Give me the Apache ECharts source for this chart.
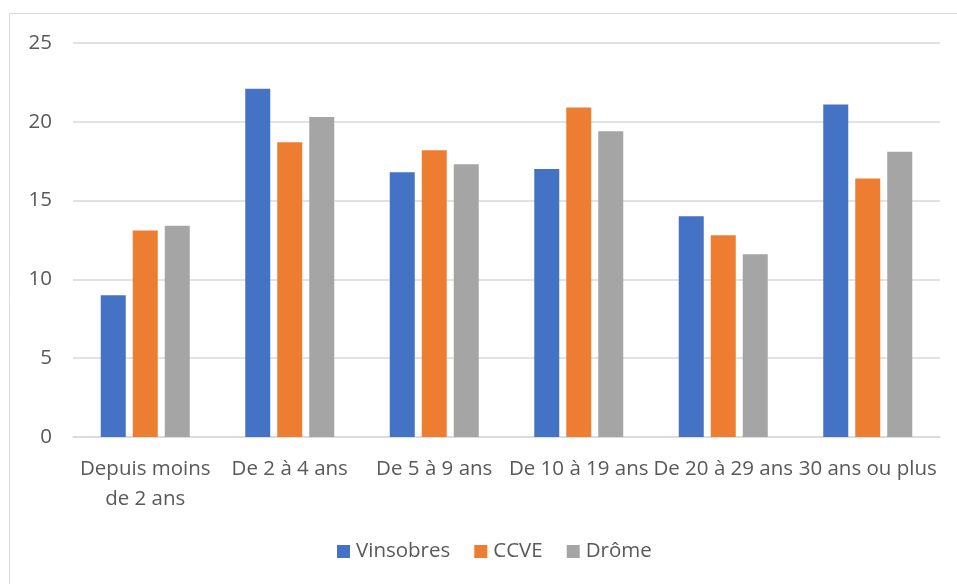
<!DOCTYPE html>
<html><head><meta charset="utf-8">
<script src="https://cdn.jsdelivr.net/npm/echarts@6/dist/echarts.min.js"></script>
<style>html,body{margin:0;padding:0;background:#fff}#c{width:957px;height:584px}</style>
</head><body><div id="c"></div>
<script>
const categories = ["Depuis moins\nde 2 ans", "De 2 à 4 ans", "De 5 à 9 ans", "De 10 à 19 ans", "De 20 à 29 ans", "30 ans ou plus"];
const vinsobres = [9.0, 22.1, 16.8, 17.0, 14.0, 21.1];
const ccve = [13.1, 18.7, 18.2, 20.9, 12.8, 16.4];
const drome = [13.4, 20.3, 17.3, 19.4, 11.6, 18.1];
const yTicks = [0, 5, 10, 15, 20, 25];

const font = "Open Sans";
const txt = "#595959";
const chart = echarts.init(document.getElementById('c'), null, {renderer: 'canvas'});
chart.setOption({
  animation: false,
  color: ['#4472C4', '#ED7D31', '#A5A5A5'],
  graphic: [{type: 'rect', shape: {x: 9.5, y: 13.5, width: 1000, height: 700}, style: {fill: 'none', stroke: '#d9d9d9', lineWidth: 1}, silent: true}],
  grid: {left: 73, right: 17, top: 43, bottom: 147, containLabel: false},
  legend: {
    bottom: 17, left: 332, itemWidth: 13, itemHeight: 13, itemGap: 24,
    icon: 'rect',
    textStyle: {color: txt, fontFamily: font, fontSize: 20.5, padding: [0,0,0,1]},
    data: ['Vinsobres', 'CCVE', 'Drôme']
  },
  xAxis: {
    type: 'category', data: categories,
    axisLine: {lineStyle: {color: '#d9d9d9', width: 1.5}},
    axisTick: {show: false},
    axisLabel: {interval: 0, color: txt, fontFamily: font, fontSize: 20.5, lineHeight: 30, margin: 17}
  },
  yAxis: {
    type: 'value', min: yTicks[0], max: yTicks[yTicks.length-1], interval: 5,
    axisLine: {show: false}, axisTick: {show: false},
    splitLine: {lineStyle: {color: '#d9d9d9', width: 1.5}},
    axisLabel: {color: txt, fontFamily: font, fontSize: 20.5, margin: 21}
  },
  series: [
    {name: 'Vinsobres', type: 'bar', data: vinsobres, barWidth: 25, barGap: '28%'},
    {name: 'CCVE', type: 'bar', data: ccve, barWidth: 25, barGap: '28%'},
    {name: 'Drôme', type: 'bar', data: drome, barWidth: 25, barGap: '28%'}
  ]
});
</script></body></html>
